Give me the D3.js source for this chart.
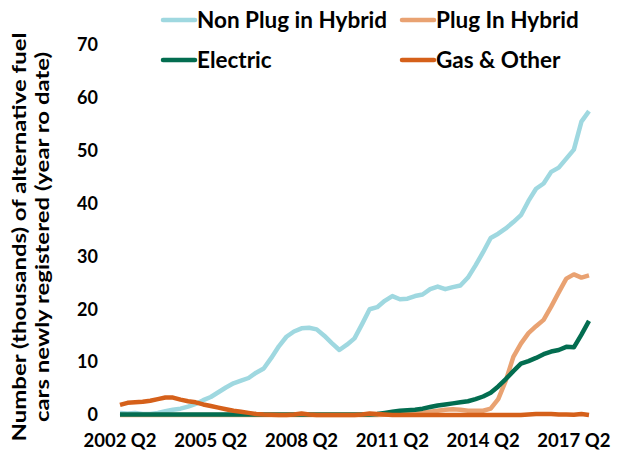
<!DOCTYPE html>
<html>
<head>
<meta charset="utf-8">
<script src="https://cdn.jsdelivr.net/npm/d3@7"></script>
<style>
    body { margin: 0; background: #fff; }
    text { font-family: Lato, "Open Sans", sans-serif; font-weight: bold; fill: #000; }
</style>
</head>
<body>
<script>
// quarters from 2002 Q2 to 2017 Q4
const quarters = [];
for (let y = 2002; y <= 2017; y++) {
    for (let q = 1; q <= 4; q++) {
        if (y === 2002 && q === 1) continue;
        quarters.push(y + " Q" + q);
    }
}
const tickLabels = ["2002 Q2", "2005 Q2", "2008 Q2", "2011 Q2", "2014 Q2", "2017 Q2"];
const yTicks = [0, 10, 20, 30, 40, 50, 60, 70];

const nonPlug = [0.4, 0.3, 0.4, 0.2, 0.2, 0.4, 0.7, 1.0, 1.2, 1.6,
    2.1, 2.8, 3.4, 4.3, 5.2, 6.0, 6.5, 7.0, 8.0, 8.8,
    10.8, 13.0, 14.8, 15.8, 16.4, 16.5, 16.2, 15.0, 13.6, 12.3,
    13.3, 14.5, 17.2, 20.0, 20.4, 21.6, 22.5, 21.9, 22.0, 22.5,
    22.8, 23.8, 24.3, 23.8, 24.2, 24.5, 26.0, 28.3, 30.8, 33.5,
    34.3, 35.3, 36.5, 37.8, 40.5, 42.8, 43.8, 46.0, 46.8, 48.5,
    50.2, 55.5, 57.5];
const plugIn = [0, 0, 0, 0, 0, 0, 0, 0, 0, 0,
    0, 0, 0, 0, 0, 0, 0, 0, 0, 0,
    0, 0, 0, 0, 0, 0, 0, 0, 0, 0,
    0, 0, 0, 0, 0, 0.05, 0.1, 0.2, 0.3, 0.4,
    0.5, 0.6, 0.8, 1.0, 1.1, 1.0, 0.8, 0.8, 0.8, 1.2,
    3.0, 6.5, 11.0, 13.5, 15.5, 16.8, 18.0, 20.5, 23.2, 25.8,
    26.6, 26.0, 26.4];
const electric = [0.1, 0.1, 0.1, 0.1, 0.1, 0.1, 0.1, 0.1, 0.1, 0.1,
    0.1, 0.1, 0.1, 0.1, 0.1, 0.1, 0.1, 0.1, 0.1, 0.1,
    0.1, 0.1, 0.1, 0.1, 0.1, 0.1, 0.1, 0.1, 0.1, 0.1,
    0.1, 0.1, 0.1, 0.1, 0.2, 0.4, 0.6, 0.8, 0.9, 1.0,
    1.2, 1.5, 1.8, 2.0, 2.2, 2.4, 2.6, 3.0, 3.5, 4.2,
    5.4, 6.8, 8.3, 9.7, 10.2, 10.8, 11.5, 12.0, 12.3, 12.9,
    12.8, 15.2, 17.8];
const gasOther = [1.9, 2.3, 2.4, 2.5, 2.7, 3.0, 3.3, 3.3, 2.9, 2.6,
    2.4, 2.0, 1.7, 1.4, 1.1, 0.8, 0.6, 0.4, 0.2, 0.1,
    0.05, 0, 0, 0.1, 0.3, 0.1, 0, 0, 0, 0,
    0, 0, 0.1, 0.3, 0.2, 0.1, 0, 0, 0, 0,
    0, 0, 0, 0, 0, 0, 0, 0, 0, 0,
    0, 0, 0, 0, 0.1, 0.2, 0.2, 0.2, 0.1, 0.1,
    0.05, 0.2, 0];

const seriesNames = ["Non Plug in Hybrid", "Plug In Hybrid", "Electric", "Gas & Other"];
const seriesData = [nonPlug, plugIn, electric, gasOther];
const seriesColors = ["#9fd8e0", "#e9a272", "#036d50", "#d5601a"];

const width = 635;
const height = 457;

const svg = d3.select("body")
    .append("svg")
    .attr("width", width)
    .attr("height", height);

const x = d3.scalePoint()
    .domain(quarters)
    .range([120, 589]);

const y = d3.scaleLinear()
    .domain([0, 70])
    .range([415, 45]);

// y axis labels
svg.selectAll(".ytick")
    .data(yTicks)
    .enter()
    .append("text")
    .attr("class", "ytick")
    .attr("x", 98)
    .attr("y", d => y(d))
    .attr("dy", "0.35em")
    .attr("text-anchor", "end")
    .style("font-size", "18px")
    .text(d => d);

// x axis labels
svg.selectAll(".xtick")
    .data(tickLabels)
    .enter()
    .append("text")
    .attr("class", "xtick")
    .attr("x", d => x(d))
    .attr("y", 441)
    .attr("dy", "0.35em")
    .attr("text-anchor", "middle")
    .style("font-size", "18.5px")
    .text(d => d);

// axis title (stretched along its length like the original)
const title = svg.append("text")
    .attr("transform", "translate(0,237) rotate(-90) scale(1.26,1)")
    .attr("text-anchor", "middle")
    .style("font-size", "19px");
title.append("tspan").attr("x", 0).attr("y", 26).text("Number (thousands) of alternative fuel");
title.append("tspan").attr("x", 0).attr("y", 49).text("cars newly registered (year ro date)");

// lines
const line = d3.line()
    .x((d, i) => x(quarters[i]))
    .y(d => y(d));

svg.selectAll(".series")
    .data(seriesData)
    .enter()
    .append("path")
    .attr("class", "series")
    .attr("d", line)
    .style("fill", "none")
    .style("stroke", (d, i) => seriesColors[i])
    .style("stroke-width", 4.5)
    .style("stroke-linejoin", "round");

// legend
const legendPos = [[163, 20], [402, 20], [163, 60], [402, 60]];
const legend = svg.selectAll(".legend")
    .data(seriesNames)
    .enter()
    .append("g")
    .attr("class", "legend")
    .attr("transform", (d, i) => "translate(" + legendPos[i][0] + "," + legendPos[i][1] + ")");

legend.append("line")
    .attr("x1", 0)
    .attr("x2", 32)
    .style("stroke", (d, i) => seriesColors[i])
    .style("stroke-width", 4.5)
    .style("stroke-linecap", "round");

legend.append("text")
    .attr("x", 34)
    .attr("dy", "0.35em")
    .style("font-size", "22.5px")
    .text(d => d);
</script>
</body>
</html>
